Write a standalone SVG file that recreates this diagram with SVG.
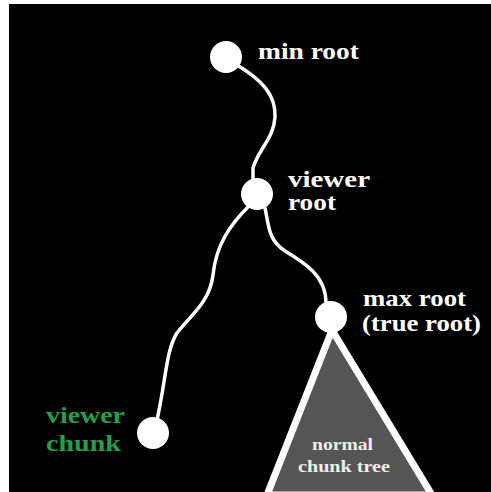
<svg xmlns="http://www.w3.org/2000/svg" width="491" height="492" viewBox="0 0 491 492">
<style>
.lbl{font-family:"Liberation Serif","DejaVu Serif","Times New Roman",serif;font-weight:bold;font-size:23px;fill:#ffffff}
.green{fill:#23a04a}
.small{font-family:"Liberation Serif","DejaVu Serif","Times New Roman",serif;font-weight:bold;font-size:17px;fill:#eeeeee}
.edge{fill:none;stroke:#ffffff;stroke-width:3.5;stroke-linecap:round}
.node{fill:#ffffff}
</style>
<rect x="0" y="0" width="491" height="492" fill="#ffffff"/>
<rect x="9" y="4" width="482" height="488" fill="#000000"/>
<g id="connectors">
<path class="edge" d="M237,65 C262,80 276,95 275,117 C274,138 258,150 253,168 L253,182"/>
<path class="edge" d="M248,207 C230,225 216,245 213,275 C210,302 190,316 177,333 C166,350 166,380 157,420"/>
<path class="edge" d="M265,208 C269,226 268,240 285,251 C305,263 326,276 326,303"/>
</g>
<g id="tree">
<polygon points="332,330 267,495 432,495" fill="#555555" stroke="#ffffff" stroke-width="7" stroke-linejoin="round"/>
<text class="small" x="312" y="450" textLength="61" lengthAdjust="spacingAndGlyphs">normal</text>
<text class="small" x="298" y="472" textLength="92" lengthAdjust="spacingAndGlyphs">chunk tree</text>
</g>
<g id="min-root">
<circle class="node" cx="226" cy="57" r="16"/>
<text class="lbl" x="258" y="59" textLength="101" lengthAdjust="spacingAndGlyphs">min root</text>
</g>
<g id="viewer-root">
<circle class="node" cx="257" cy="194" r="16"/>
<text class="lbl" x="288" y="187" textLength="82" lengthAdjust="spacingAndGlyphs">viewer</text>
<text class="lbl" x="288" y="210" textLength="48" lengthAdjust="spacingAndGlyphs">root</text>
</g>
<g id="max-root">
<circle class="node" cx="331" cy="317" r="16"/>
<text class="lbl" x="363" y="306" textLength="103" lengthAdjust="spacingAndGlyphs">max root</text>
<text class="lbl" x="362" y="331" textLength="119" lengthAdjust="spacingAndGlyphs">(true root)</text>
</g>
<g id="viewer-chunk">
<circle class="node" cx="153" cy="433" r="16"/>
<text class="lbl green" x="46" y="423" textLength="79" lengthAdjust="spacingAndGlyphs">viewer</text>
<text class="lbl green" x="46" y="451" textLength="75" lengthAdjust="spacingAndGlyphs">chunk</text>
</g>
</svg>
